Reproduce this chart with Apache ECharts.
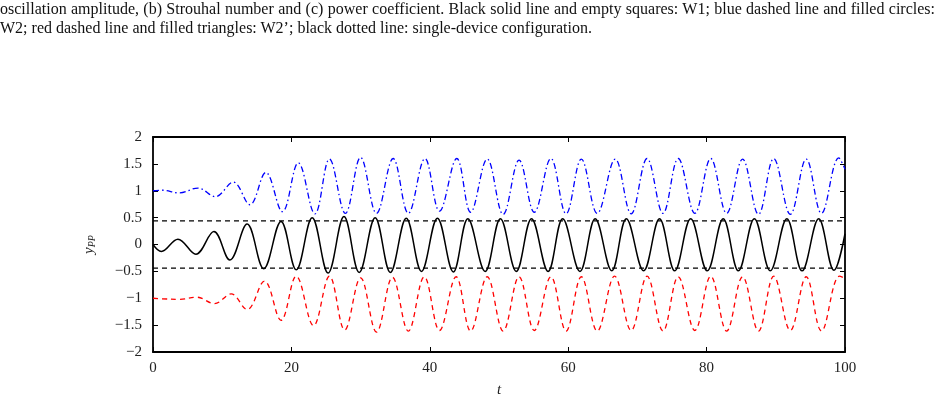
<!DOCTYPE html>
<html>
<head>
<meta charset="utf-8">
<script src="https://cdn.jsdelivr.net/npm/echarts/dist/echarts.min.js"></script>
<style>
html,body{margin:0;padding:0;background:#fff;}
#chart{position:absolute;left:0;top:0;width:943px;height:403px;}
#cap{position:absolute;left:0;top:0;width:935px;font-family:"Liberation Serif","Times New Roman",serif;font-size:16px;line-height:18.5px;color:#111;z-index:2;}
#l1{text-align:justify;text-align-last:justify;}
</style>
</head>
<body>
<div id="chart"></div>
<div id="cap">
<div id="l1">oscillation amplitude, (b) Strouhal number and (c) power coefficient. Black solid line and empty squares: W1; blue dashed line and filled circles:</div>
<div id="l2">W2; red dashed line and filled triangles: W2’; black dotted line: single-device configuration.</div>
</div>
<script>
// x ticks and y ticks
const xTicks = [0, 20, 40, 60, 80, 100];
const yTicks = [-2, -1.5, -1, -0.5, 0, 0.5, 1, 1.5, 2];

// W1: black solid line (t, y_PP) — extrema
const w1 = [[0,0],[1.2,-0.13],[3.6,0.10],[6.2,-0.18],[8.8,0.24],[11.1,-0.29],[13.6,0.38],[16.0,-0.45],[18.5,0.43],[20.7,-0.47],[23.0,0.50],[25.3,-0.53],[27.6,0.52],[29.8,-0.52],[32.1,0.50],[34.3,-0.52],[36.6,0.49],[38.8,-0.50],[41.1,0.49],[43.4,-0.51],[45.5,0.48],[48.0,-0.50],[50.2,0.48],[52.5,-0.50],[54.7,0.48],[57.1,-0.50],[59.2,0.48],[61.7,-0.50],[63.9,0.48],[66.3,-0.49],[68.4,0.48],[70.9,-0.49],[73.2,0.48],[75.4,-0.49],[77.7,0.48],[80.1,-0.49],[82.4,0.48],[84.6,-0.49],[86.9,0.48],[89.2,-0.49],[91.6,0.48],[93.8,-0.49],[96.2,0.48],[98.4,-0.48],[100,0.2]];

// W2: blue dash-dot line
const w2 = [[0,1.0],[1.3,1.01],[3.8,0.96],[6.5,1.05],[9.0,0.89],[11.6,1.16],[14.0,0.74],[16.3,1.34],[18.7,0.61],[21.0,1.52],[23.4,0.57],[25.5,1.59],[27.8,0.58],[30.0,1.62],[32.3,0.58],[34.7,1.60],[36.9,0.58],[39.3,1.60],[41.4,0.62],[43.9,1.60],[45.9,0.60],[48.3,1.59],[50.6,0.56],[52.9,1.57],[55.1,0.60],[57.5,1.60],[59.7,0.57],[61.9,1.59],[64.2,0.58],[66.8,1.59],[69.1,0.57],[71.4,1.60],[73.7,0.58],[75.9,1.60],[78.3,0.58],[80.6,1.60],[82.9,0.58],[85.2,1.59],[87.5,0.56],[89.7,1.60],[92.1,0.56],[94.4,1.59],[96.6,0.58],[99.1,1.61],[100,1.40]];

// W2': red dashed line
const w2p = [[0,-1.0],[1.3,-1.01],[3.8,-1.02],[6.3,-0.98],[8.9,-1.10],[11.3,-0.92],[13.6,-1.21],[16.1,-0.68],[18.5,-1.41],[20.7,-0.59],[23.2,-1.51],[25.5,-0.59],[27.7,-1.59],[30.0,-0.62],[32.3,-1.63],[34.6,-0.61],[36.9,-1.61],[39.2,-0.60],[41.4,-1.60],[43.8,-0.60],[45.9,-1.61],[48.3,-0.60],[50.6,-1.61],[52.9,-0.60],[55.1,-1.60],[57.5,-0.60],[59.7,-1.61],[61.9,-0.60],[64.2,-1.61],[66.7,-0.59],[69.1,-1.60],[71.4,-0.59],[73.7,-1.61],[75.9,-0.60],[78.3,-1.60],[80.6,-0.59],[82.9,-1.61],[85.2,-0.60],[87.5,-1.61],[89.7,-0.59],[92.1,-1.60],[94.4,-0.60],[96.6,-1.61],[99.2,-0.59],[100,-0.63]];

// single-device configuration: black dashed envelope lines
const singleUpper = [[0,0.44],[100,0.44]];
const singleLower = [[0,-0.44],[100,-0.44]];

const chart = echarts.init(document.getElementById('chart'), null, {renderer:'canvas'});
const serif = '"Liberation Serif","Times New Roman",serif';
const lblStyle = {fontFamily: serif, fontSize: 15, color: '#222'};
const frameLine = {show:true, onZero:false, lineStyle:{color:'#000', width:1.8}};
const tickIn = {show:true, inside:true, length:5, lineStyle:{color:'#000', width:1}};
const fmt = v => String(v).replace('-', '\u2212');

const option = {
  animation: false,
  backgroundColor: '#fff',
  grid: {left:153, top:137, width:692, height:215, containLabel:false},
  xAxis: [
    {type:'value', position:'bottom', min:xTicks[0], max:xTicks[xTicks.length-1], interval:20,
     axisLine:frameLine, axisTick:tickIn, splitLine:{show:false},
     axisLabel:Object.assign({margin:9, formatter:fmt}, lblStyle),
     name:'t', nameLocation:'middle', nameGap:31,
     nameTextStyle:{fontFamily:serif, fontSize:15, fontStyle:'italic', color:'#222'}},
    {type:'value', position:'top', min:0, max:100, interval:20,
     axisLine:frameLine, axisTick:tickIn, splitLine:{show:false}, axisLabel:{show:false}}
  ],
  yAxis: [
    {type:'value', position:'left', min:yTicks[0], max:yTicks[yTicks.length-1], interval:0.5,
     axisLine:frameLine, axisTick:tickIn, splitLine:{show:false},
     axisLabel:Object.assign({margin:11, formatter:fmt}, lblStyle),
     name:'{i|y}{s|PP}', nameLocation:'middle', nameGap:56, nameRotate:90,
     nameTextStyle:{rich:{
       i:{fontFamily:serif, fontSize:15, fontStyle:'italic', color:'#222'},
       s:{fontFamily:serif, fontSize:10, fontStyle:'italic', color:'#222', padding:[6,0,0,0]}
     }}},
    {type:'value', position:'right', min:-2, max:2, interval:0.5,
     axisLine:frameLine, axisTick:tickIn, splitLine:{show:false}, axisLabel:{show:false}}
  ],
  series: [
    {name:'single upper', type:'line', data:singleUpper, symbol:'none', silent:true,
     lineStyle:{color:'#000', width:1.3, type:[5,4]}},
    {name:'single lower', type:'line', data:singleLower, symbol:'none', silent:true,
     lineStyle:{color:'#000', width:1.3, type:[5,4]}},
    {name:'W2', type:'line', data:w2, symbol:'none', smooth:0.38,
     lineStyle:{color:'#0000ff', width:1.3, type:[6,3,1.5,3]}},
    {name:"W2'", type:'line', data:w2p, symbol:'none', smooth:0.38,
     lineStyle:{color:'#ff0000', width:1.3, type:[5,4]}},
    {name:'W1', type:'line', data:w1, symbol:'none', smooth:0.38,
     lineStyle:{color:'#000', width:1.5, type:'solid'}}
  ]
};
chart.setOption(option);
</script>
</body>
</html>
